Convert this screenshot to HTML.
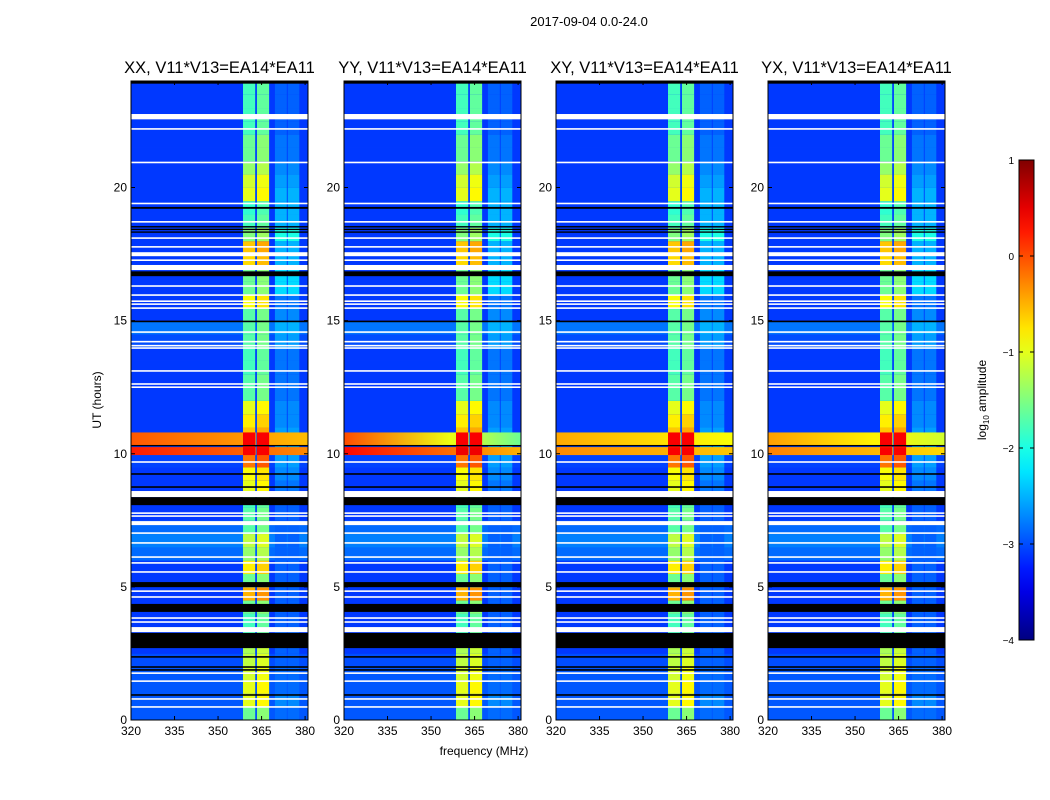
<!DOCTYPE html>
<html><head><meta charset="utf-8">
<style>
html,body{margin:0;padding:0;background:#fff;}
svg{display:block;font-family:"Liberation Sans","DejaVu Sans",sans-serif;}
</style></head>
<body>
<svg id="fig" width="1050" height="800" viewBox="0 0 1050 800" xmlns="http://www.w3.org/2000/svg">
<rect width="1050" height="800" fill="#fff"/>
<text x="589" y="26" font-size="13" text-anchor="middle">2017-09-04 0.0-24.0</text>
<text x="484" y="755" font-size="12" text-anchor="middle">frequency (MHz)</text>
<text transform="translate(101,400) rotate(-90)" font-size="12" text-anchor="middle">UT (hours)</text>
<g id="panels"></g>
<g id="cbar"></g>
</svg>
<script>
// ---- data ----
const panelTitles = ["XX, V11*V13=EA14*EA11","YY, V11*V13=EA14*EA11","XY, V11*V13=EA14*EA11","YX, V11*V13=EA14*EA11"];
const xTicks = [320,335,350,365,380];
const yTicks = [0,5,10,15,20];
const cbTicks = [1,0,-1,-2,-3,-4];
// half-hour bins 0..24 h, log10 amplitude
const bgLevel = [-2.95,-2.95,-2.95,-2.95,-3.0,-3.1,-3.1,-3.1,-3.1,-3.1,-3.1,-3.1,-2.85,-2.75,-2.85,-3.1,-3.1,-3.1,-3.1,-3.05,-3.05,-3.1,-3.1,-3.1,-3.1,-3.1,-3.1,-3.1,-3.0,-2.8,-3.1,-3.1,-3.1,-3.1,-3.1,-3.1,-3.1,-3.1,-3.1,-3.1,-3.1,-3.1,-3.1,-3.1,-3.1,-3.1,-3.1,-3.1];
const bandLevel = [-1.6,-1.0,-1.0,-1.1,-1.2,-1.3,-1.8,-1.8,-1.6,-0.5,-1.6,-0.8,-1.4,-1.2,-1.7,-1.7,-1.8,-1.0,-0.9,-0.2,0.3,-0.6,-0.8,-1.0,-1.7,-1.7,-1.8,-1.8,-1.7,-1.7,-1.7,-0.9,-1.6,-1.6,-0.7,-0.6,-1.5,-1.8,-1.9,-1.0,-1.1,-1.4,-1.6,-1.6,-1.8,-1.8,-1.8,-1.8];
const outerLevel = [-2.85,-2.7,-2.85,-2.85,-2.9,-2.9,-2.9,-2.9,-2.9,-2.9,-2.9,-2.9,-2.9,-2.9,-2.9,-2.9,-2.9,-2.8,-2.7,-2.6,-2.5,-2.6,-2.7,-2.7,-2.8,-2.8,-2.8,-2.8,-2.6,-2.5,-2.7,-2.8,-2.3,-2.3,-2.5,-2.5,-2.0,-2.5,-2.5,-2.5,-2.6,-2.7,-2.8,-2.8,-2.9,-2.9,-2.9,-2.9];
const band1 = [358.6,362.8], band2 = [363.4,367.6], outer1 = [369.6,373.7], outer2 = [374.0,378.0];
// broadband RFI near 10 h: two rows, per panel left/right levels
const bbStart = [9.95,10.30], bbEnd = [10.25,10.80];
const bbLeft  = [[0.25,-0.05],[0.35,0.0],[-0.3,-0.45],[-0.25,-0.4]];
const bbRight = [[-0.3,-0.55],[-0.5,-1.6],[-0.6,-0.9],[-0.7,-1.1]];
const whiteStart = [22.61,22.56,22.17,20.91,19.37,18.68,18.07,17.74,17.42,17.24,16.90,16.27,15.93,15.70,15.59,15.44,14.54,14.18,14.03,13.94,13.08,12.59,12.47,9.66,8.37,7.74,7.63,7.32,6.99,6.62,6.09,5.87,5.53,4.81,4.59,3.80,3.65,3.30,1.73,1.43,0.76,0.46];
const whiteEnd   = [22.76,22.61,22.23,20.97,19.43,18.74,18.13,17.80,17.57,17.30,17.09,16.33,15.99,15.76,15.65,15.50,14.60,14.24,14.09,14.00,13.14,12.65,12.53,9.72,8.60,7.80,7.69,7.47,7.05,6.68,6.15,5.93,5.59,4.87,4.65,3.86,3.71,3.49,1.79,1.49,0.82,0.52];
const blackStart = [23.90,19.20,18.50,18.40,18.30,16.67,14.94,10.28,9.21,8.72,8.07,4.99,4.06,2.70,2.34,1.96,1.85,0.91];
const blackEnd   = [24.00,19.27,18.55,18.45,18.35,16.85,15.00,10.33,9.27,8.78,8.37,5.18,4.36,3.27,2.40,2.02,1.91,0.97];
// ---- layout ----
const NS="http://www.w3.org/2000/svg";
const panelX=[131,344,556,768], PW=177, PT=81, PB=720;
const fMin=320, fMax=381, hMin=0, hMax=24;
function jet(v){const t=Math.max(0,Math.min(1,(v+4)/5));const c=x=>Math.round(255*Math.max(0,Math.min(1,1.5-Math.abs(x))));return `rgb(${c(4*t-3)},${c(4*t-2)},${c(4*t-1)})`;}
function mk(tag,attrs,parent){const e=document.createElementNS(NS,tag);for(const k in attrs)e.setAttribute(k,attrs[k]);parent.appendChild(e);return e;}
const panels=document.getElementById('panels');
panelX.forEach((px,p)=>{
  const xs=f=>px+(f-fMin)/(fMax-fMin)*PW;
  const ys=h=>PB-(h-hMin)/(hMax-hMin)*(PB-PT);
  const g=mk('g',{},panels);
  
  
  const nb=bgLevel.length, bh=(hMax-hMin)/nb;
  for(let i=0;i<nb;i++){
    const y1=ys(hMin+(i+1)*bh), y0=ys(hMin+i*bh), hgt=y0-y1+0.4;
    const r=mk('rect',{x:px,y:y1,width:PW,height:hgt,fill:jet(bgLevel[i])},g);
    
    
    [[outer1,outerLevel[i]],[outer2,outerLevel[i]],[band1,bandLevel[i]],[band2,bandLevel[i]+0.15]].forEach(([b,v])=>{
      const c=mk('rect',{x:xs(b[0]),y:y1,width:xs(b[1])-xs(b[0]),height:hgt,fill:jet(v)},g);
      
      
    });
  }
  for(let k=0;k<bbStart.length;k++){
    const gid='bb'+p+'_'+k;
    const lg=mk('linearGradient',{id:gid,x1:0,x2:1,y1:0,y2:0},g);
    mk('stop',{offset:0,'stop-color':jet(bbLeft[p][k])},lg);
    mk('stop',{offset:0.6,'stop-color':jet((bbLeft[p][k]*0.4+bbRight[p][k]*0.6))},lg);
    mk('stop',{offset:1,'stop-color':jet(bbRight[p][k])},lg);
    const r=mk('rect',{x:px,y:ys(bbEnd[k]),width:PW,height:ys(bbStart[k])-ys(bbEnd[k]),fill:`url(#${gid})`},g);
    
    
    const pk=Math.max(bbLeft[p][k],bandLevel[20])+0.1;
    [band1,band2].forEach(b=>{const c=mk('rect',{x:xs(b[0]),y:ys(bbEnd[k]),width:xs(b[1])-xs(b[0]),height:ys(bbStart[k])-ys(bbEnd[k]),fill:jet(pk)},g);
      
      });
  }
  const sep=mk('rect',{x:xs(363.0),y:PT,width:1.2,height:PB-PT,fill:jet(-3.0),opacity:0.7},g);
  
  
  for(let i=0;i<whiteStart.length;i++){
    const r=mk('rect',{x:px,y:ys(whiteEnd[i]),width:PW,height:Math.max(1.2,ys(whiteStart[i])-ys(whiteEnd[i])),fill:'#fff'},g);
    
    
  }
  for(let i=0;i<blackStart.length;i++){
    const r=mk('rect',{x:px,y:ys(blackEnd[i]),width:PW,height:Math.max(1.2,ys(blackStart[i])-ys(blackEnd[i])),fill:'#000'},g);
    
    
  }
  const fr=mk('rect',{x:px,y:PT,width:PW,height:PB-PT,fill:'none',stroke:'#000','stroke-width':1},g);
  
  
  const t=mk('text',{x:px+PW/2,y:73,'font-size':16.5,'text-anchor':'middle'},g);
  t.textContent=panelTitles[p];
  
  
  xTicks.forEach(f=>{
    const x=xs(f);
    mk('line',{x1:x,x2:x,y1:PB,y2:PB-4,stroke:'#000'},g);
    mk('line',{x1:x,x2:x,y1:PT,y2:PT+4,stroke:'#000'},g);
    const l=mk('text',{x:x,y:735,'font-size':12,'text-anchor':'middle'},g);
    l.textContent=f;
    
    
  });
  yTicks.forEach(h=>{
    const y=ys(h);
    mk('line',{x1:px,x2:px+4,y1:y,y2:y,stroke:'#000'},g);
    mk('line',{x1:px+PW,x2:px+PW-4,y1:y,y2:y,stroke:'#000'},g);
    const l=mk('text',{x:px-4,y:y+4,'font-size':12,'text-anchor':'end'},g);
    l.textContent=h;
    
    
  });
});
const cb=document.getElementById('cbar');


const CX=1019,CW=15,CT=160,CB=640,vTop=1,vBot=-4;
const cys=v=>CT+(vTop-v)/(vTop-vBot)*(CB-CT);
const cg=mk('linearGradient',{id:'cbg',x1:0,x2:0,y1:0,y2:1},cb);
for(let i=0;i<=20;i++){const v=vTop-(vTop-vBot)*i/20;mk('stop',{offset:i/20,'stop-color':jet(v)},cg);}
const cr=mk('rect',{x:CX,y:CT,width:CW,height:CB-CT,fill:'url(#cbg)',stroke:'#000','stroke-width':1},cb);


cbTicks.forEach(v=>{
  const y=cys(v);
  mk('line',{x1:CX,x2:CX+4,y1:y,y2:y,stroke:'#000'},cb);
  mk('line',{x1:CX+CW,x2:CX+CW-4,y1:y,y2:y,stroke:'#000'},cb);
  const l=mk('text',{x:CX-5,y:y+4,'font-size':10,'text-anchor':'end'},cb);
  l.textContent=v<0?'\u2212'+Math.abs(v):String(v);
  
  
});
const cl=mk('text',{transform:'translate(986,400) rotate(-90)','font-size':12,'text-anchor':'middle'},cb);
cl.innerHTML='log<tspan font-size="8" dy="3">10</tspan><tspan dy="-3"> amplitude</tspan>';


</script>
</body></html>
